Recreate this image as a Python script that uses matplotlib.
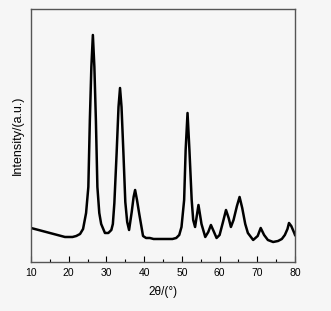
import matplotlib
matplotlib.use("Agg")
import matplotlib.pyplot as plt
from matplotlib.ticker import MultipleLocator

plt.rcParams['font.family'] = ['Liberation Sans', 'DejaVu Sans']

# XRD pattern (2theta in degrees, intensity in a.u.)
two_theta = [10, 11, 12, 13, 14, 15, 16, 17, 18, 19, 20, 21, 22, 23, 23.8,
             24.6, 25.2, 25.6, 26.0, 26.4, 26.8, 27.2, 27.6, 28.1, 28.6, 29.6,
             30.5, 31.3, 31.7, 32.1, 32.7, 33.2, 33.6, 34.0, 34.5, 35.0, 35.5,
             36.0, 36.7, 37.2, 37.6, 38.1, 38.7, 39.7, 40.5, 41.5, 42.5, 43.5,
             44.5, 45.5, 46.5, 47.5, 48.5, 49.3, 49.9, 50.6, 51.0, 51.5, 52.0,
             52.6, 53.0, 53.5, 54.4, 55.2, 56.2, 57.0, 57.7, 58.4, 59.2, 60.0,
             60.9, 61.7, 62.4, 63.0, 63.7, 64.6, 65.3, 66.0, 66.8, 67.5, 68.9,
             70.1, 70.9, 71.8, 72.8, 74.2, 75.5, 76.5, 77.3, 78.0, 78.4, 79.0,
             79.8, 80]
intensity = [34, 33, 32, 31, 30, 29, 28, 27, 26, 25, 25, 25, 26, 28, 33,
             49, 75, 142, 195, 227, 195, 142, 75, 49, 38, 29,
             29, 32, 38, 59, 109, 155, 174, 155, 109, 60, 40,
             32, 50, 65, 72, 62, 48, 26, 24, 24, 23, 23,
             23, 23, 23, 23, 24, 27, 35, 62, 112, 149, 112,
             62, 42, 35, 57, 38, 25, 30, 37, 31, 24, 27,
             40, 52, 44, 35, 42, 56, 65, 54, 38, 29, 22,
             26, 34, 27, 22, 20, 21, 23, 27, 33, 39, 36,
             29, 27]

fig = plt.figure(figsize=(3.31, 3.11), dpi=100, facecolor='#f6f6f6')
ax = fig.add_axes([0.0937, 0.1576, 0.7976, 0.8135], facecolor='#f6f6f6')
ax.plot(two_theta, intensity, color='black', lw=1.8, solid_joinstyle='round')

ax.set_xlim(10, 80)
ax.set_ylim(0, 253)
ax.xaxis.set_major_locator(MultipleLocator(10))
ax.xaxis.set_minor_locator(MultipleLocator(5))
ax.tick_params(axis='x', which='both', direction='in', labelsize=7.5, pad=4)
ax.tick_params(axis='x', which='major', length=4, width=0.8)
ax.tick_params(axis='x', which='minor', length=2.5, width=0.8)
ax.set_yticks([])
for s in ax.spines.values():
    s.set_color('#555555')
    s.set_linewidth(1.0)

ax.set_xlabel('2θ/(°)', fontsize=8.5, labelpad=6)
ax.set_ylabel('Intensity/(a.u.)', fontsize=9, labelpad=5)

fig.savefig('out.png', dpi=100, facecolor=fig.get_facecolor())
